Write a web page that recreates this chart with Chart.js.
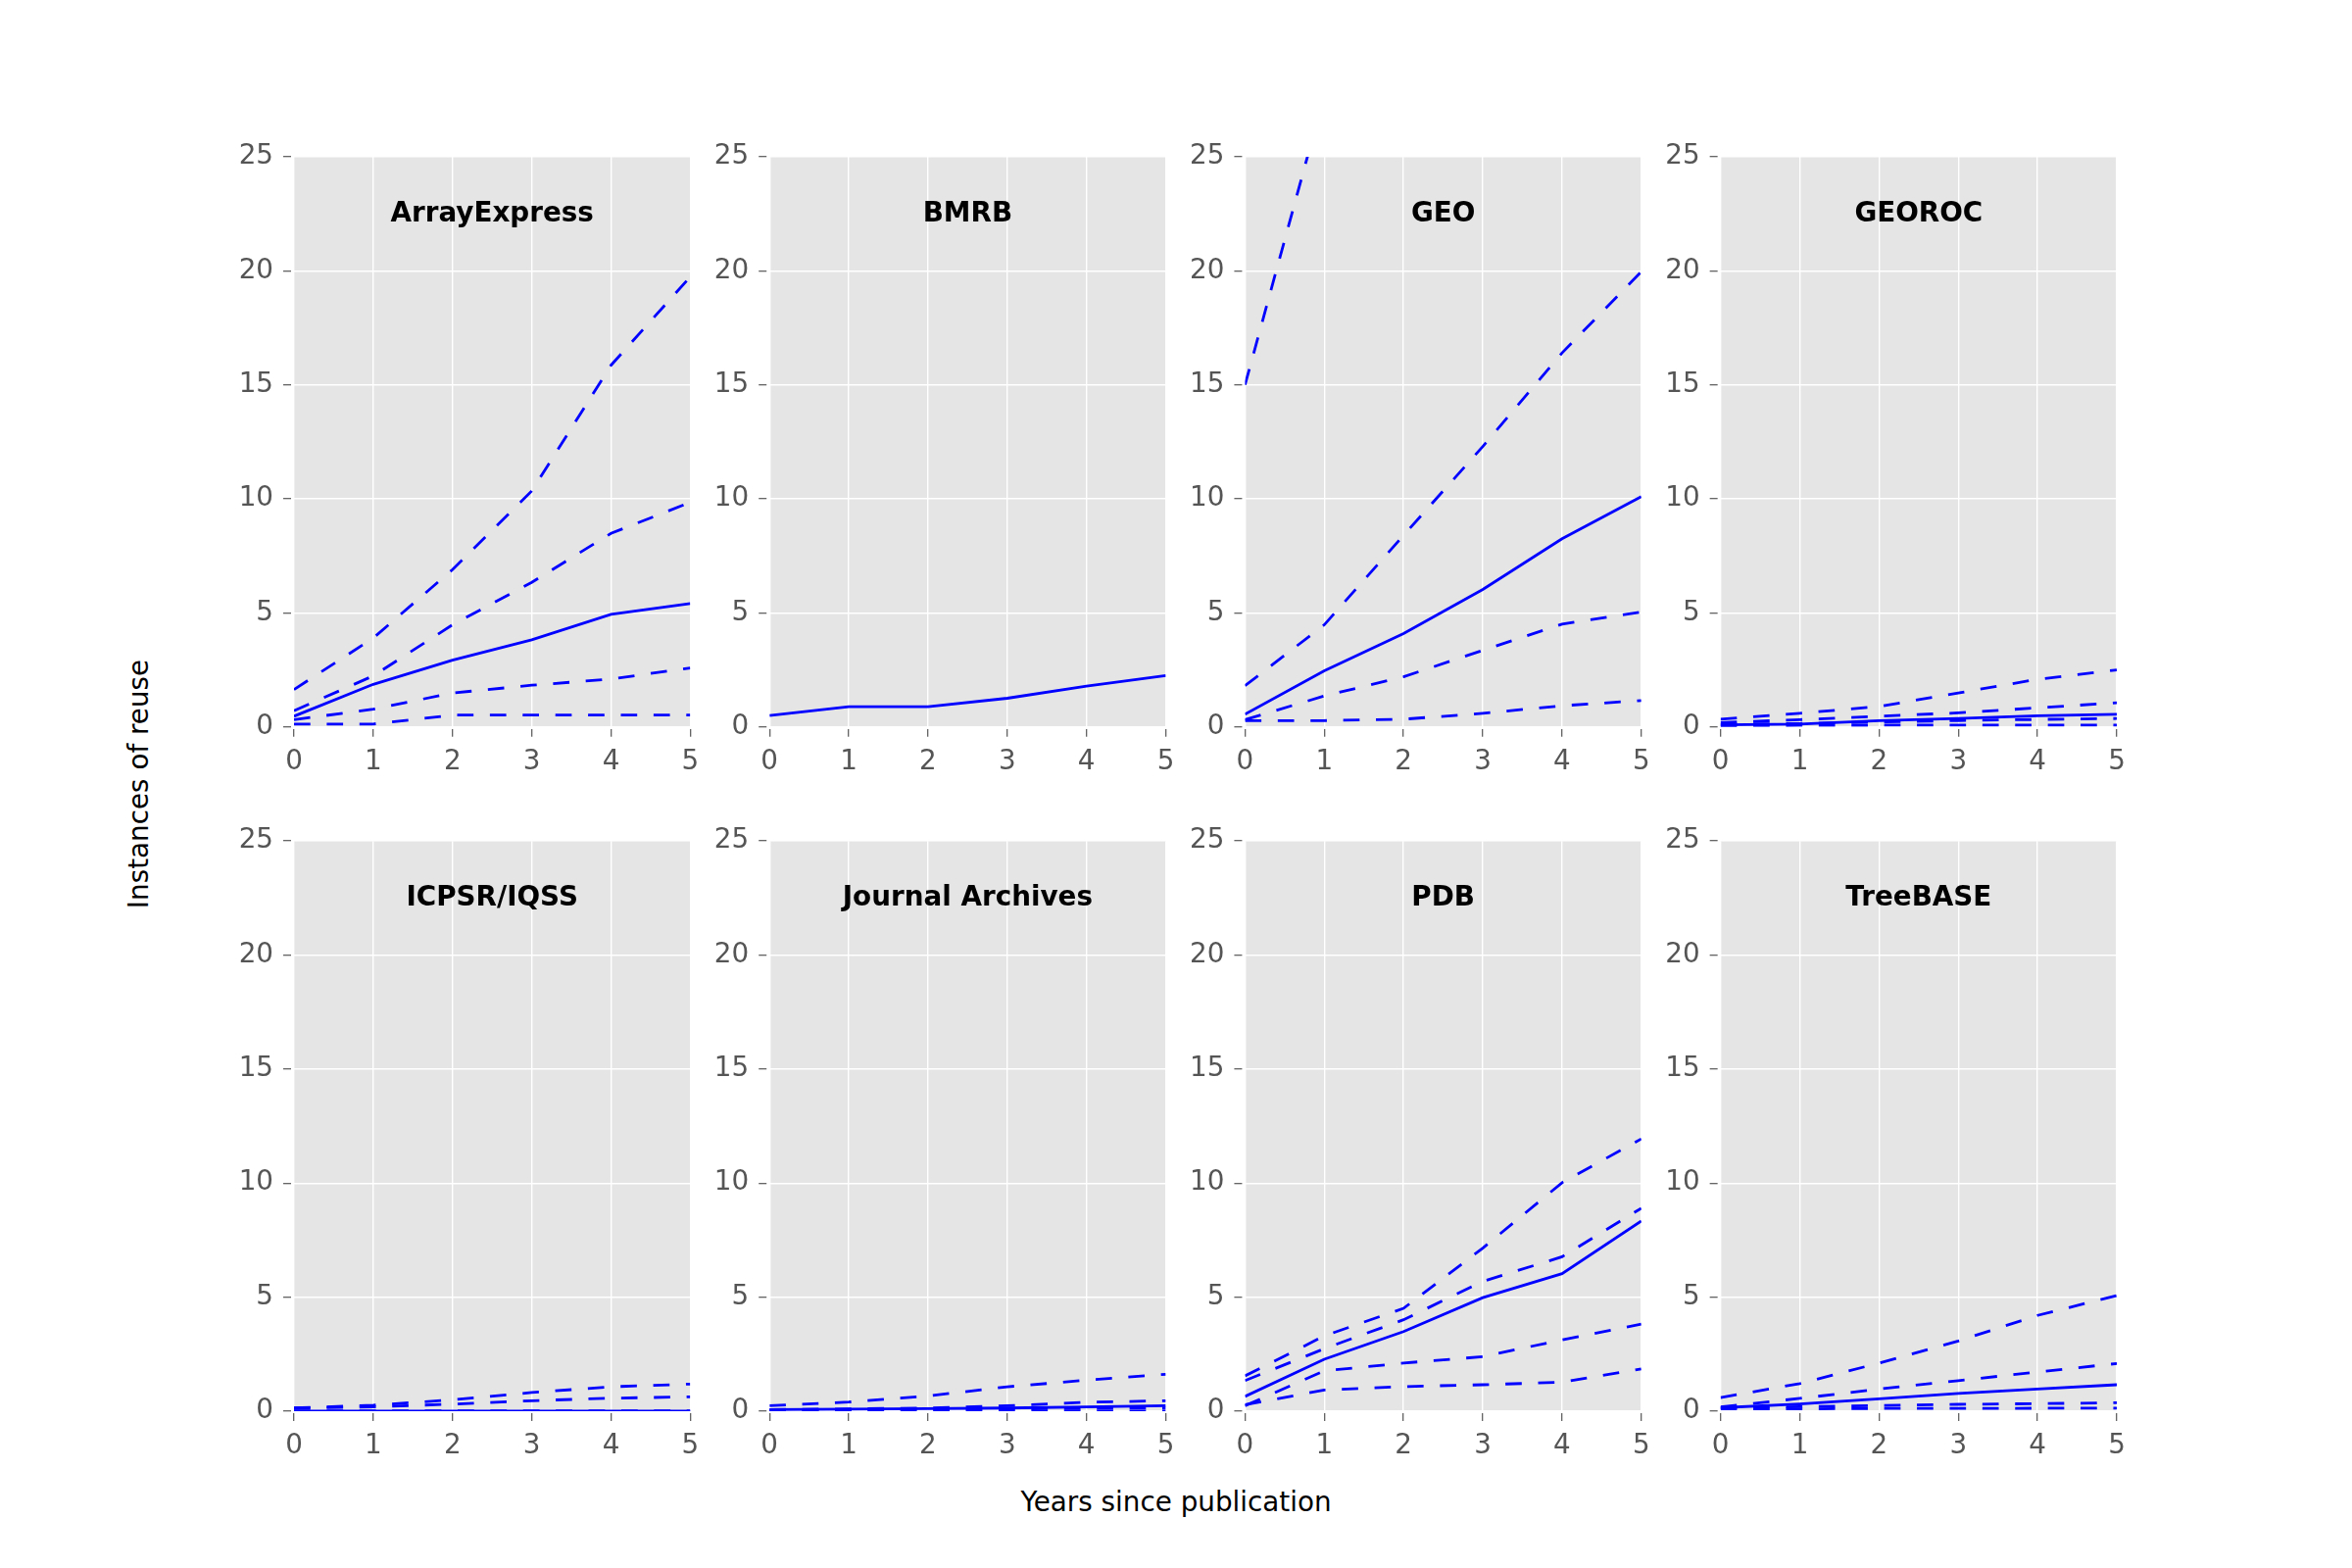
<!DOCTYPE html>
<html>
<head>
<meta charset="utf-8">
<script src="https://cdn.jsdelivr.net/npm/chart.js@4.4.1/dist/chart.umd.min.js"></script>
<style>
html, body { margin: 0; padding: 0; background: #ffffff; }
#wrap { position: relative; width: 2400px; height: 1600px; overflow: hidden; background: #ffffff; }
#wrap canvas { position: absolute; left: 0; top: 0; }
.lab { position: absolute; font-family: 'DejaVu Sans'; font-size: 27.8px; color: #000; white-space: nowrap; line-height: 1; }
#xlab { left: 1200px; top: 1533px; transform: translate(-50%, -50%); }
#ylab { left: 142px; top: 800px; transform: translate(-50%, -50%) rotate(-90deg); }
</style>
</head>
<body>
<div id="wrap">
  <div class="lab" id="xlab">Years since publication</div>
  <div class="lab" id="ylab">Instances of reuse</div>
</div>
<script>
// ---------- data ----------
const years = [0, 1, 2, 3, 4, 5];
const xTickValues = [0, 1, 2, 3, 4, 5];
const yTickValues = [0, 5, 10, 15, 20, 25];
const panelNames = ['ArrayExpress', 'BMRB', 'GEO', 'GEOROC', 'ICPSR/IQSS', 'Journal Archives', 'PDB', 'TreeBASE'];

// medians (solid lines)
const arrayExpressMedian    = [0.47, 1.87, 2.93, 3.82, 4.94, 5.41];
const bmrbMedian            = [0.50, 0.89, 0.89, 1.26, 1.79, 2.25];
const geoMedian             = [0.56, 2.46, 4.10, 6.03, 8.25, 10.10];
const georocMedian          = [0.09, 0.13, 0.28, 0.37, 0.49, 0.56];
const icpsrMedian           = [0.00, 0.00, 0.00, 0.00, 0.00, 0.00];
const journalArchivesMedian = [0.07, 0.09, 0.11, 0.14, 0.19, 0.24];
const pdbMedian             = [0.65, 2.28, 3.49, 4.98, 6.03, 8.34];
const treebaseMedian        = [0.15, 0.32, 0.54, 0.78, 0.97, 1.16];

// other quantiles (dashed lines), highest first
const arrayExpressBands = [
  [1.64, 3.90, 6.90, 10.35, 15.86, 19.74],
  [0.71, 2.24, 4.48, 6.34, 8.49, 9.85],
  [0.32, 0.78, 1.49, 1.83, 2.10, 2.59],
  [0.13, 0.13, 0.52, 0.52, 0.52, 0.52]
];
const bmrbBands = [];
const geoBands = [
  [15.0, 27.7, 38.0, 50.0, 61.0, 72.0],
  [1.81, 4.48, 8.40, 12.30, 16.40, 19.96],
  [0.32, 1.36, 2.20, 3.36, 4.51, 5.04],
  [0.28, 0.28, 0.34, 0.60, 0.93, 1.16]
];
const georocBands = [
  [0.34, 0.60, 0.90, 1.49, 2.09, 2.50],
  [0.19, 0.32, 0.47, 0.62, 0.84, 1.06],
  [0.12, 0.15, 0.22, 0.28, 0.33, 0.37],
  [0.05, 0.07, 0.08, 0.08, 0.08, 0.08]
];
const icpsrBands = [
  [0.14, 0.26, 0.50, 0.82, 1.07, 1.19],
  [0.14, 0.19, 0.31, 0.46, 0.57, 0.63],
  [0.00, 0.00, 0.00, 0.00, 0.00, 0.00],
  [0.00, 0.00, 0.00, 0.00, 0.00, 0.00]
];
const journalArchivesBands = [
  [0.24, 0.40, 0.67, 1.07, 1.36, 1.62],
  [0.07, 0.10, 0.14, 0.24, 0.39, 0.46],
  [0.05, 0.07, 0.09, 0.10, 0.12, 0.14],
  [0.00, 0.00, 0.00, 0.00, 0.00, 0.00]
];
const pdbBands = [
  [1.55, 3.30, 4.51, 7.15, 10.02, 11.94],
  [1.34, 2.74, 4.01, 5.69, 6.77, 8.90],
  [0.24, 1.77, 2.11, 2.39, 3.13, 3.82],
  [0.28, 0.93, 1.08, 1.16, 1.27, 1.85]
];
const treebaseBands = [
  [0.60, 1.21, 2.11, 3.08, 4.20, 5.07],
  [0.19, 0.56, 0.97, 1.34, 1.72, 2.09],
  [0.15, 0.20, 0.25, 0.30, 0.33, 0.37],
  [0.10, 0.10, 0.12, 0.12, 0.13, 0.13]
];

const panelMedians = [arrayExpressMedian, bmrbMedian, geoMedian, georocMedian, icpsrMedian, journalArchivesMedian, pdbMedian, treebaseMedian];
const panelBands = [arrayExpressBands, bmrbBands, geoBands, georocBands, icpsrBands, journalArchivesBands, pdbBands, treebaseBands];

// ---------- layout / style ----------
const FIG_W = 2400, FIG_H = 1600;
const AX_LEFT = 300, AX_RIGHT = 2160, AX_TOP = 160, AX_BOTTOM = 1440;
const NCOL = 4, NROW = 2, WSPACE = 0.2, HSPACE = 0.2;
const PW = (AX_RIGHT - AX_LEFT) / (NCOL + (NCOL - 1) * WSPACE);
const PH = (AX_BOTTOM - AX_TOP) / (NROW + (NROW - 1) * HSPACE);
const YAXIS_W = 60, XAXIS_H = 60;
const BLUE = '#0000ff';
const LINE_W = 2.8;
const DASH = [16.7, 16.7];
const TITLE_Y_VALUE = 22.47;
const FONT_PX = 27.8;

Chart.defaults.font.family = "'DejaVu Sans'";

const bgPlugin = {
  id: 'panelBg',
  beforeDraw(chart) {
    const a = chart.chartArea, ctx = chart.ctx;
    ctx.save();
    ctx.fillStyle = '#e5e5e5';
    ctx.fillRect(a.left, a.top, a.right - a.left, a.bottom - a.top);
    ctx.restore();
  }
};
const titlePlugin = {
  id: 'panelTitle',
  afterDatasetsDraw(chart, args, opts) {
    const ctx = chart.ctx;
    ctx.save();
    ctx.font = "bold " + FONT_PX + "px 'DejaVu Sans'";
    ctx.fillStyle = '#000000';
    ctx.textAlign = 'center';
    ctx.textBaseline = 'middle';
    ctx.fillText(opts.text, chart.scales.x.getPixelForValue(2.5), chart.scales.y.getPixelForValue(TITLE_Y_VALUE));
    ctx.restore();
  }
};

const wrap = document.getElementById('wrap');

panelNames.forEach((name, i) => {
  const col = i % NCOL, row = Math.floor(i / NCOL);
  const L = AX_LEFT + col * PW * (1 + WSPACE);
  const T = AX_TOP + row * PH * (1 + HSPACE);
  const canvas = document.createElement('canvas');
  canvas.width = FIG_W; canvas.height = FIG_H;
  wrap.appendChild(canvas);

  const datasets = [];
  panelBands[i].forEach(band => {
    datasets.push({
      data: years.map((x, k) => ({ x: x, y: band[k] })),
      borderColor: BLUE, borderWidth: LINE_W, borderDash: DASH,
      pointRadius: 0, fill: false, tension: 0, clip: 0
    });
  });
  datasets.push({
    data: years.map((x, k) => ({ x: x, y: panelMedians[i][k] })),
    borderColor: BLUE, borderWidth: LINE_W, borderDash: [],
    pointRadius: 0, fill: false, tension: 0, clip: 0
  });

  new Chart(canvas, {
    type: 'line',
    data: { datasets: datasets },
    options: {
      responsive: false, animation: false, events: [],
      layout: { padding: { left: L - YAXIS_W, top: T, right: FIG_W - (L + PW), bottom: FIG_H - (T + PH) - XAXIS_H } },
      plugins: { legend: { display: false }, tooltip: { enabled: false }, panelTitle: { text: name } },
      scales: {
        x: {
          type: 'linear', min: 0, max: 5,
          afterFit(s) { s.height = XAXIS_H; },
          afterBuildTicks(s) { s.ticks = xTickValues.map(v => ({ value: v })); },
          grid: { color: '#ffffff', lineWidth: 1.4, tickColor: '#555555', tickLength: 10, tickWidth: 1.2, tickBorderDash: [0, 2, 8, 100] },
          border: { display: false },
          ticks: { color: '#555555', font: { size: FONT_PX }, padding: 9, maxRotation: 0, autoSkip: false }
        },
        y: {
          type: 'linear', min: 0, max: 25,
          afterFit(s) { s.width = YAXIS_W; },
          afterBuildTicks(s) { s.ticks = yTickValues.map(v => ({ value: v })); },
          grid: { color: '#ffffff', lineWidth: 1.4, tickColor: '#555555', tickLength: 11, tickWidth: 1.2, tickBorderDash: [8, 100] },
          border: { display: false },
          ticks: { color: '#555555', font: { size: FONT_PX }, padding: 10, autoSkip: false }
        }
      }
    },
    plugins: [bgPlugin, titlePlugin]
  });
});
</script>
</body>
</html>
